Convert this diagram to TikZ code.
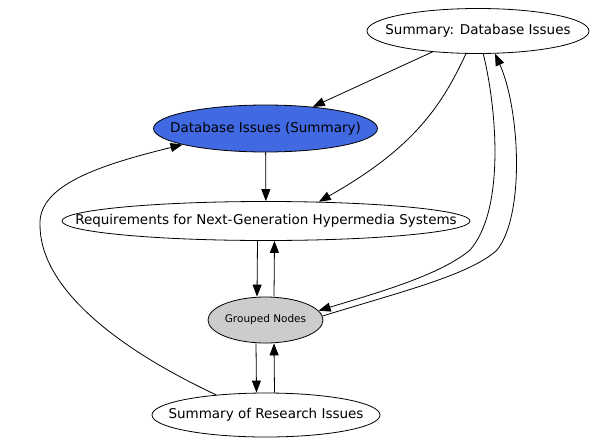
\documentclass[tikz,border=0pt]{standalone}
\usepackage{fontspec}
\setmainfont{DejaVu Sans}
\usetikzlibrary{shapes.geometric,arrows.meta}
\definecolor{dbblue}{RGB}{65,105,225}
\definecolor{grpgray}{RGB}{204,204,204}
\tikzset{
  ell/.style={ellipse, draw=black, line width=0.8pt, inner sep=0pt, font=\fontsize{13.5}{16}\selectfont},
  edge/.style={draw=black, line width=0.8pt, -{Triangle[length=12pt,width=9pt]}},
}
\begin{document}
\begin{tikzpicture}[x=1pt,y=-1pt]
\useasboundingbox[fill=white] (0,0) rectangle (596,447);
\node[ell, minimum width=222pt, minimum height=45pt] (n1) at (478,31) {\makebox[0pt]{Summary: Database Issues}};
\node[ell, fill=dbblue, minimum width=224pt, minimum height=47pt] (n2) at (265.5,128.5) {\makebox[0pt]{Database Issues (Summary)}};
\node[ell, minimum width=408pt, minimum height=39pt] (n3) at (266,221) {\makebox[0pt]{Requirements for Next-Generation Hypermedia Systems}};
\node[ell, fill=grpgray, minimum width=115pt, minimum height=46pt, font=\fontsize{10.5}{12}\selectfont] (n4) at (265.5,320) {\makebox[0pt]{Grouped Nodes}};
\node[ell, minimum width=228pt, minimum height=44pt] (n5) at (266,415) {\makebox[0pt]{Summary of Research Issues}};

% n1 -> n2
\draw[edge] (n1) -- (n2);
% n1 -> n3
\draw[edge] (n1.242) .. controls (440,110) and (410,150) .. (n3.20);
% n2 -> n3
\draw[edge] (n2) -- (n3);
% n3 <-> n4
\draw[edge] ([xshift=-8.5pt]n3.south) -- ([xshift=-8.5pt]n4.north);
\draw[edge] ([xshift=8.5pt]n4.north) -- ([xshift=8.5pt]n3.south);
% n4 <-> n5
\draw[edge] ([xshift=-9.5pt]n4.south) -- ([xshift=-9.5pt]n5.north);
\draw[edge] ([xshift=8.5pt]n5.north) -- ([xshift=8.5pt]n4.south);
% n1 -> n4 (inner)
\draw[edge] (n1.283) .. controls (497,110) and (505,210) .. (470,250) .. controls (440,275) and (380,292) .. (n4.10);
% n4 -> n1 (outer)
\draw[edge] (n4.4) .. controls (400,292) and (470,275) .. (497,250) .. controls (525,215) and (520,110) .. (n1.307);
% n5 -> n2
\draw[edge] (n5.158) .. controls (110,345) and (40,285) .. (40,225) .. controls (38,185) and (100,165) .. (n2.191);
\end{tikzpicture}
\end{document}
